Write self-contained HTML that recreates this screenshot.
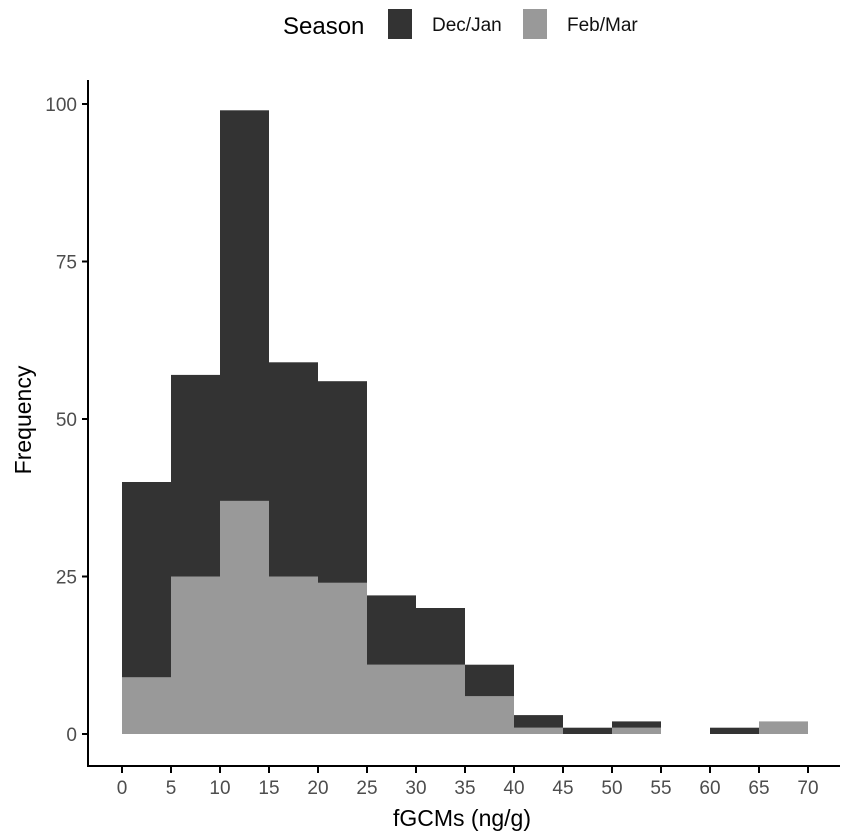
<!DOCTYPE html>
<html><head><meta charset="utf-8"><style>
body{margin:0;background:#fff;}
svg{display:block;font-family:"Liberation Sans",Arial,sans-serif;}
</style></head><body>
<svg id="chart" width="851" height="838">
<g>
<text x="283" y="34" font-size="24" fill="#000">Season</text>
<rect x="388" y="9" width="24" height="30" fill="#333"/>
<text x="432" y="31" font-size="19" fill="#111">Dec/Jan</text>
<rect x="523" y="9" width="24" height="30" fill="#999"/>
<text x="567" y="31" font-size="19" fill="#111">Feb/Mar</text>
</g>
<g id="bars"></g>
<g id="axes"></g>
<text x="462" y="826" font-size="23" text-anchor="middle" fill="#000">fGCMs (ng/g)</text>
<text transform="translate(31,420) rotate(-90)" font-size="23" text-anchor="middle" fill="#000">Frequency</text>
</svg>
<script>
const binStarts = [0,5,10,15,20,25,30,35,40,45,50,55,60,65];
const decJan = [31,32,62,34,32,11,9,5,2,1,1,0,1,0];
const febMar = [9,25,37,25,24,11,11,6,1,0,1,0,0,2];
const xTicks = [0,5,10,15,20,25,30,35,40,45,50,55,60,65,70];
const yTicks = [0,25,50,75,100];
const binWidth = 5;

const NS = "http://www.w3.org/2000/svg";
const xs = v => 122 + v * (808 - 122) / 70;
const ys = v => 734 - v * (734 - 104) / 100;
const bars = document.getElementById('bars');
const axes = document.getElementById('axes');
function mk(tag, attrs, parent){const e=document.createElementNS(NS,tag);for(const k in attrs)e.setAttribute(k,attrs[k]);parent.appendChild(e);return e;}

binStarts.forEach((b,i)=>{
  const x0=xs(b), x1=xs(b+binWidth);
  if(febMar[i]>0){
    const r=mk('rect',{x:x0,y:ys(febMar[i]),width:x1-x0,height:ys(0)-ys(febMar[i]),fill:'#999'},bars);
    
    
  }
  if(decJan[i]>0){
    const top=febMar[i]+decJan[i];
    const r=mk('rect',{x:x0,y:ys(top),width:x1-x0,height:ys(febMar[i])-ys(top),fill:'#333'},bars);
    
    
  }
});

const yl=mk('line',{x1:88,y1:80,x2:88,y2:767,stroke:'#000','stroke-width':2},axes);


const xl=mk('line',{x1:87,y1:766,x2:840,y2:766,stroke:'#000','stroke-width':2},axes);



yTicks.forEach(t=>{
  mk('line',{x1:82,y1:ys(t),x2:88,y2:ys(t),stroke:'#000','stroke-width':2},axes);
  const tx=mk('text',{x:77,y:ys(t)+7,'font-size':19,'text-anchor':'end',fill:'#4d4d4d'},axes);
  tx.textContent=t;
  
  
});
xTicks.forEach(t=>{
  mk('line',{x1:xs(t),y1:766,x2:xs(t),y2:773,stroke:'#000','stroke-width':2},axes);
  const tx=mk('text',{x:xs(t),y:794,'font-size':19,'text-anchor':'middle',fill:'#4d4d4d'},axes);
  tx.textContent=t;
  
  
});
</script>
</body></html>
